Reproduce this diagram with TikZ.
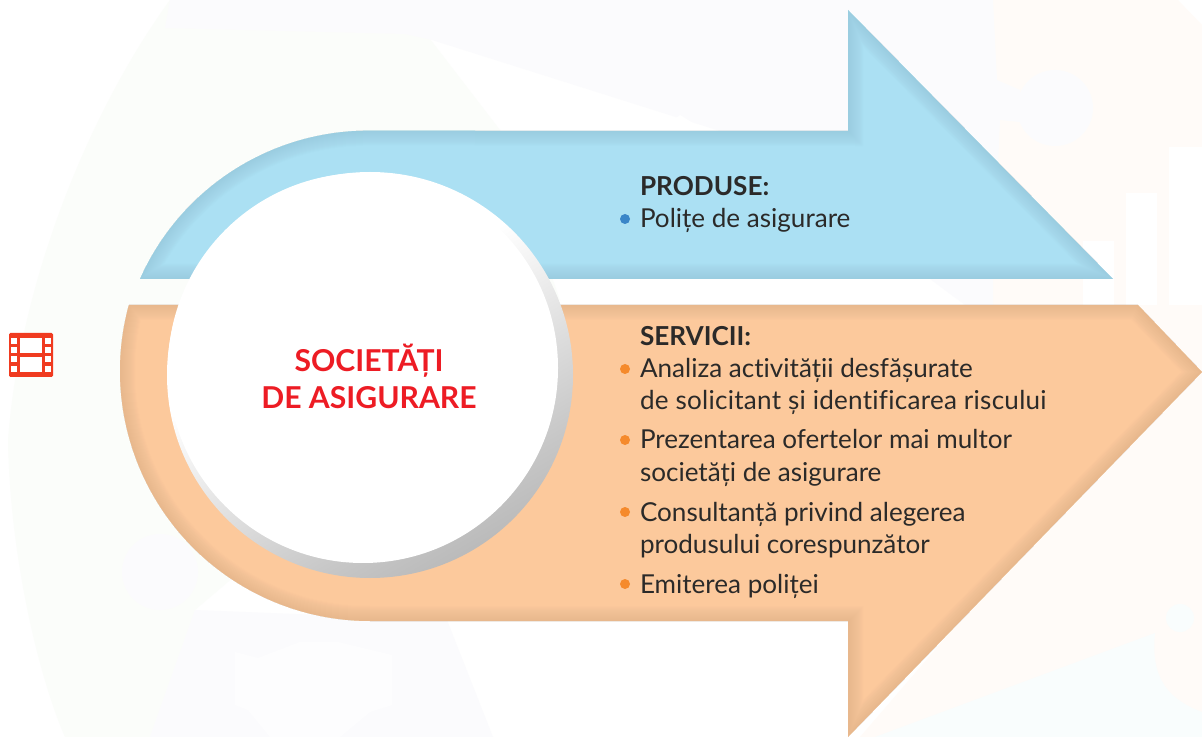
\documentclass[tikz,border=0pt]{standalone}
\usepackage{fontspec}
\setmainfont[Ligatures={NoCommon}]{Lato}
\definecolor{blueband}{HTML}{ABE0F3}
\definecolor{blueshade}{HTML}{8FBFD3}
\definecolor{orangeband}{HTML}{FCC99C}
\definecolor{orangeshade}{HTML}{D9AC85}
\definecolor{inktext}{HTML}{2B2A29}
\definecolor{titlered}{HTML}{ED1C24}
\definecolor{filmred}{HTML}{F03B20}
\definecolor{bluedot}{HTML}{3A86C8}
\definecolor{orangedot}{HTML}{F58A2C}
\definecolor{washgreen}{HTML}{FBFDFA}
\definecolor{washlav}{HTML}{FBFBFD}
\definecolor{washcream}{HTML}{FFFBF8}
\definecolor{washblue}{HTML}{F9FDFD}
\pgfdeclareverticalshading{ringfade}{100bp}{
  color(0bp)=(black!37); color(13.4bp)=(black!35); color(31.7bp)=(black!22);
  color(42.7bp)=(black!13); color(58bp)=(white); color(100bp)=(white)}
\tikzset{
  x=0.75pt,y=-0.75pt,
  body/.style={anchor=base west,inner sep=0pt,outer sep=0pt,text=inktext,font=\fontsize{19.55}{24}\selectfont},
  head/.style={anchor=base west,inner sep=0pt,outer sep=0pt,text=inktext,font=\fontsize{19.6}{24}\selectfont\bfseries},
  dot/.style={circle,inner sep=0pt,minimum size=7.5pt},
  title/.style={align=center,inner sep=0pt,text=titlered,font=\fontsize{22.6}{27.7}\selectfont\bfseries},
}
\def\bluepath{(140,279) arc[start angle=204,end angle=270,radius=250] -- (848,131) -- (848,10) -- (1113,279) -- cycle}
\def\orangepath{(1138,305) -- (1202,372) -- (848,737) -- (848,621) -- (370,621) arc[start angle=90,end angle=195,radius=250] -- (129,305) -- cycle}
\begin{document}
\begin{tikzpicture}
\useasboundingbox (0,0) rectangle (1202,737);
\fill[white] (0,0) rectangle (1202,737);
% faint watermark
\fill[washgreen] (170,0) .. controls (90,110) and (20,280) .. (8,440) .. controls (10,560) and (40,680) .. (65,737) -- (150,737) -- (195,610) -- (560,300) -- (500,130) -- (400,0) -- cycle;
\fill[washlav] (170,0) -- (850,0) -- (850,131) -- (720,131) -- (432,40) -- (405,34) -- (165,28) -- cycle;
\fill[washlav] (195,610) -- (150,737) -- (493,737) -- (447,620) -- cycle;
\fill[washlav] (160,572) circle[radius=38];
\fill[washcream] (993,0) -- (1178,0) -- (1202,25) -- (1202,737) -- (860,737) -- (1150,400) -- (993,305) -- cycle;
\fill[washlav] (850,0) -- (993,0) -- (997,80) -- (1020,90) -- (1020,122) -- (1000,120) -- (993,279) -- (993,305) -- (965,305) -- (930,279) -- (1000,200) -- (850,131) -- cycle;
\fill[washlav] (1055,108) circle[radius=38];
\fill[white] (1083,241) rectangle (1114,305);
\fill[white] (1126,193) rectangle (1157,305);
\fill[white] (1169,147) rectangle (1202,305);
\fill[washblue] (875,737) -- (1155,633) .. controls (1150,680) and (1170,700) .. (1202,712) -- (1202,737) -- cycle;
\fill[washblue] (1180,618) circle[radius=14];
\fill[white] (680,115) -- (706,131) -- (660,131) -- cycle;
% handshake watermark
\fill[white,opacity=.6] (235,652) -- (258,658) -- (300,642) -- (338,642) -- (392,655) -- (392,705) -- (370,712) -- (340,737) -- (270,737) -- (248,710) -- (235,705) -- cycle;
% blue arrow
\fill[blueband] \bluepath;
\begin{scope}
\clip \bluepath;
\foreach \w in {2,4,...,30}{\draw[blueshade,opacity=.04,line width=\w*0.75pt] \bluepath;}
\end{scope}
% orange arrow
\fill[orangeband] \orangepath;
\begin{scope}
\clip \orangepath;
\foreach \w in {2,4,...,30}{\draw[orangeshade,opacity=.04,line width=\w*0.75pt] \orangepath;}
\end{scope}
% disc
\shade[shading=ringfade,shading angle=30] (370,375) circle[radius=203];
\node[circle,fill=white,inner sep=0pt,minimum size=292.5pt] (disc) at (363,368) {};
\node[title] (name) at (369,376) {SOCIETĂȚI\\DE ASIGURARE};
% film icon
\fill[filmred,rounded corners=1pt] (9,333) rectangle (53,377);
\foreach \y in {338,347,356,366}{
  \fill[white] (11,\y) rectangle (17,\y+6);
  \fill[white] (45,\y) rectangle (51,\y+6);
}
\fill[white] (20,338) rectangle (42,353);
\fill[white] (20,357) rectangle (42,372);
% text
\node[head] (h1) at (640,196) {PRODUSE:};
\node[body] (p1) at (640,228) {Polițe de asigurare};
\node[dot,fill=bluedot] at (625,219) {};
\node[head] (h2) at (640,346) {SERVICII:};
\node[body] (s1) at (640,378) {Analiza activității desfășurate};
\node[body] (s1b) at (640,410) {\addfontfeature{LetterSpace=1}de solicitant și identificarea riscului};
\node[body] (s2) at (640,449) {Prezentarea ofertelor mai multor};
\node[body] (s2b) at (640,481) {societăți de asigurare};
\node[body] (s3) at (640,521) {Consultanță privind alegerea};
\node[body] (s3b) at (640,553) {produsului corespunzător};
\node[body] (s4) at (640,593) {Emiterea poliței};
\foreach \y in {369,440,512,584}{\node[dot,fill=orangedot] at (625,\y) {};}
\end{tikzpicture}
\end{document}
